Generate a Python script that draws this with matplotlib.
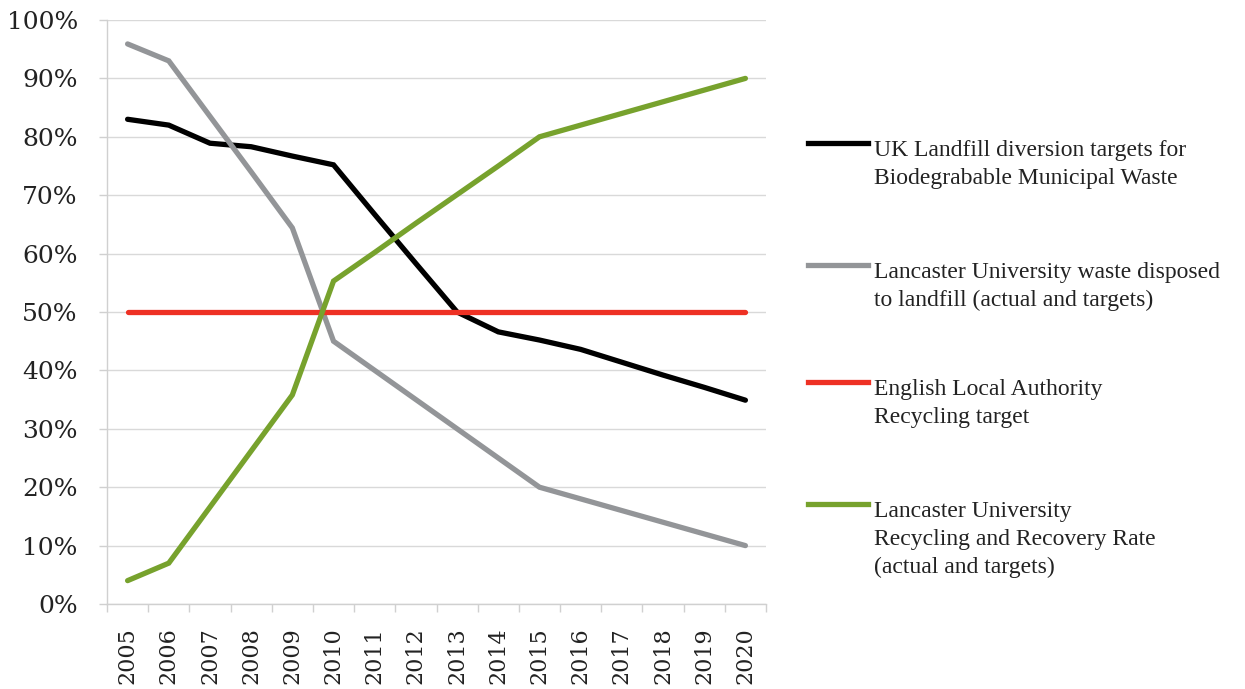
import matplotlib
matplotlib.use("Agg")
import matplotlib.pyplot as plt
from matplotlib.lines import Line2D
from matplotlib.ticker import FixedLocator, PercentFormatter

years = [str(y) for y in range(2005, 2021)]
uk_landfill = [83.0, 82.0, 78.9, 78.3, 76.7, 75.2, 66.7, 58.3, 50.0, 46.6, 45.2, 43.6, 41.4, 39.2, 37.1, 34.9]
lu_landfill = [95.9, 93.0, 83.5, 74.0, 64.4, 45.0, 40.0, 35.0, 30.0, 25.0, 20.0, 18.0, 16.0, 14.0, 12.0, 10.0]
la_target = [50.0] * 16
lu_recycling = [4.0, 7.0, 16.6, 26.2, 35.8, 55.3, 60.2, 65.2, 70.1, 75.0, 80.0, 82.0, 84.0, 86.0, 88.0, 90.0]

labels = [
    "UK Landfill diversion targets for\nBiodegrabable Municipal Waste",
    "Lancaster University waste disposed\nto landfill (actual and targets)",
    "English Local Authority\nRecycling target",
    "Lancaster University\nRecycling and Recovery Rate\n(actual and targets)",
]
colors = ["#000000", "#939598", "#EE3124", "#77A22D"]
series = [uk_landfill, lu_landfill, la_target, lu_recycling]
draw_order = [2, 3, 1, 0]

fig = plt.figure(figsize=(12.45, 6.89), dpi=100)
ax = fig.add_axes([107 / 1245, 1 - 604 / 689, (766 - 107) / 1245, (604 - 20) / 689])

x = list(range(len(years)))
for i in draw_order:
    ax.plot(x, series[i], color=colors[i], lw=3.8, solid_capstyle="round",
            solid_joinstyle="miter", zorder=3 + i)

ax.set_xlim(-0.5, len(years) - 0.5)
ax.set_ylim(0, 100)
ax.yaxis.set_major_locator(FixedLocator(range(0, 101, 10)))
ax.yaxis.set_major_formatter(PercentFormatter(decimals=0))
ax.set_xticks(x)
ax.set_xticklabels(years, rotation=90, va="top", fontfamily="DejaVu Serif", fontsize=16, color="#222222")
ax.xaxis.set_minor_locator(FixedLocator([i - 0.5 for i in range(len(years) + 1)]))
ax.tick_params(axis="x", which="major", length=0, pad=17)
ax.tick_params(axis="x", which="minor", length=6, color="#D0D0D0", width=1)
ax.tick_params(axis="y", length=6, color="#D0D0D0", width=1, pad=15)
for lab in ax.get_yticklabels():
    lab.set_fontfamily("DejaVu Serif")
    lab.set_fontsize(18)
    lab.set_color("#222222")

ax.grid(axis="y", color="#D9D9D9", lw=1)
ax.set_axisbelow(True)
for s in ["top", "right"]:
    ax.spines[s].set_visible(False)
for s in ["left", "bottom"]:
    ax.spines[s].set_color("#D0D0D0")
    ax.spines[s].set_linewidth(1)

# legend drawn manually (handle aligned near the first text line)
leg_y = [143, 265, 382, 504]
for i in range(4):
    yf = 1 - leg_y[i] / 689
    fig.add_artist(Line2D([808 / 1245, 868 / 1245], [yf, yf], color=colors[i], lw=3.8,
                          transform=fig.transFigure))
    fig.text(874 / 1245, 1 - (leg_y[i] - 3) / 689, labels[i], ha="left", va="top",
             fontsize=17, fontfamily="Liberation Serif", color="#222222", linespacing=1.42)

fig.savefig("out.png", dpi=100)
